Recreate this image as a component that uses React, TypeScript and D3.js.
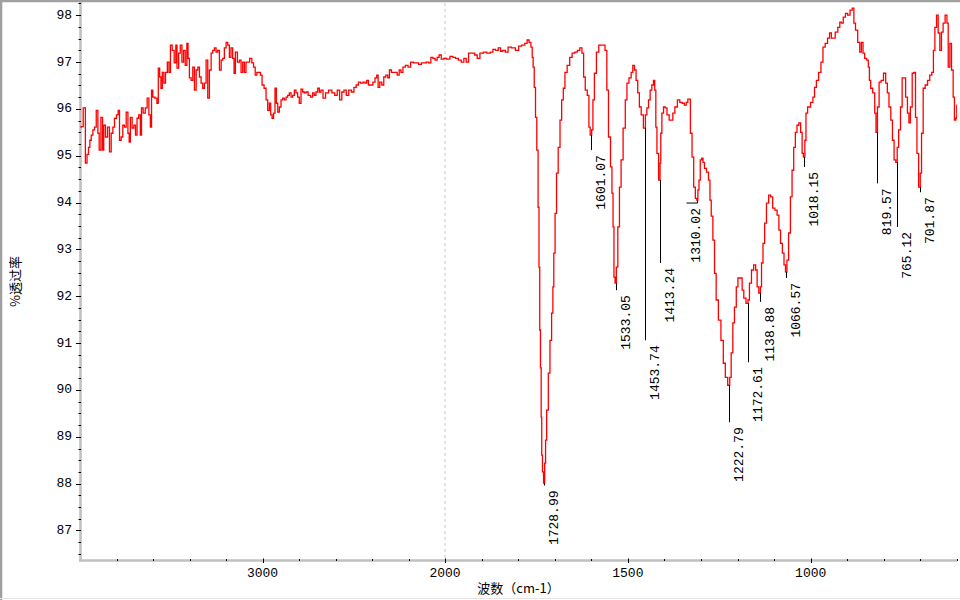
import React, { useEffect, useRef } from "react";
import * as d3 from "d3";

// [wavenumber cm-1, %T]
const spectrumHigh: [number, number][] = [
  [3998, 95.61], [3989, 95.62], [3976, 96.02], [3965, 94.84], [3958, 95.03], [3949, 95.18], [3943, 95.33],
  [3934, 95.44], [3925, 95.55], [3916, 95.61], [3906, 95.97], [3898, 95.48], [3892, 95.12], [3879, 95.82],
  [3874, 95.12], [3866, 95.65], [3855, 95.4], [3843, 95.61], [3834, 95.08], [3824, 95.48], [3816, 95.61],
  [3806, 95.8], [3794, 95.87], [3788, 95.97], [3779, 95.33], [3770, 95.4], [3761, 95.65], [3752, 95.61],
  [3742, 95.93], [3733, 95.48], [3728, 95.29], [3720, 95.82], [3709, 95.59], [3701, 95.65], [3691, 95.44],
  [3684, 95.8], [3673, 95.87], [3666, 95.44], [3660, 96.02], [3648, 95.91], [3637, 96.02], [3627, 96.23],
  [3618, 95.87], [3611, 95.61], [3605, 96.4], [3597, 96.25], [3582, 96.23], [3575, 96.12], [3567, 96.87],
  [3560, 96.68], [3553, 96.44], [3545, 96.78], [3536, 96.55], [3527, 96.78], [3516, 97.0], [3509, 96.78],
  [3500, 97.36], [3490, 97.25], [3478, 96.98], [3472, 97.36], [3465, 96.87], [3454, 97.19], [3447, 97.36],
  [3436, 97.0], [3429, 97.25], [3418, 96.93], [3411, 97.4], [3405, 97.08], [3396, 96.66], [3386, 96.61],
  [3378, 96.89], [3368, 96.4], [3359, 96.83], [3350, 96.89], [3341, 96.68], [3332, 96.55], [3323, 96.44],
  [3314, 96.55], [3304, 97.04], [3296, 96.23], [3286, 96.83], [3277, 97.19], [3268, 97.25], [3259, 97.3],
  [3250, 97.21], [3241, 97.25], [3231, 96.83], [3222, 97.04], [3214, 97.08], [3204, 97.3], [3195, 97.42],
  [3186, 97.36], [3177, 97.1], [3168, 97.3], [3159, 97.08], [3153, 96.76], [3144, 97.21], [3131, 97.0],
  [3122, 97.04], [3113, 96.78], [3104, 97.0], [3095, 96.78], [3086, 97.0], [3077, 97.0], [3064, 97.08],
  [3053, 96.98], [3045, 96.89], [3035, 96.72], [3027, 96.78], [3016, 96.78], [3007, 96.72], [2998, 96.51],
  [2985, 96.44], [2976, 96.19], [2967, 95.97], [2958, 96.12], [2952, 95.87], [2943, 95.8], [2936, 95.91],
  [2927, 96.44], [2921, 96.12], [2912, 95.93], [2903, 96.04], [2894, 96.19], [2885, 96.23], [2876, 96.19],
  [2866, 96.25], [2858, 96.29], [2848, 96.34], [2839, 96.25], [2830, 96.29], [2821, 96.4], [2812, 96.34],
  [2803, 96.25], [2794, 96.12], [2784, 96.42], [2776, 96.36], [2766, 96.34], [2757, 96.36], [2743, 96.29],
  [2730, 96.25], [2721, 96.34], [2712, 96.29], [2702, 96.36], [2693, 96.44], [2684, 96.36], [2675, 96.4],
  [2662, 96.23], [2647, 96.34], [2629, 96.4], [2611, 96.34], [2597, 96.29], [2584, 96.4], [2571, 96.19],
  [2560, 96.36], [2547, 96.4], [2535, 96.29], [2520, 96.4], [2505, 96.36], [2493, 96.46], [2480, 96.51],
  [2469, 96.57], [2456, 96.55], [2443, 96.57], [2433, 96.55], [2425, 96.61], [2414, 96.51], [2401, 96.51],
  [2389, 96.57], [2378, 96.66], [2370, 96.72], [2363, 96.46], [2352, 96.57], [2341, 96.51], [2330, 96.68],
  [2319, 96.72], [2308, 96.66], [2301, 96.83], [2286, 96.78], [2268, 96.78], [2256, 96.72], [2246, 96.83],
  [2237, 96.78], [2224, 96.89], [2210, 96.93], [2195, 96.89], [2182, 97.0], [2164, 96.98], [2152, 96.98],
  [2137, 96.95], [2122, 96.98], [2110, 96.98], [2097, 97.0], [2082, 96.98], [2073, 97.1], [2060, 97.08],
  [2049, 97.04], [2037, 97.1], [2028, 97.15], [2013, 97.06], [2000, 97.08],
];

const spectrumCarbonyl: [number, number][] = [
  [1991, 97.06], [1982, 97.12], [1975, 97.1], [1968, 97.08], [1959, 97.04], [1952, 97.0], [1945, 97.08],
  [1939, 97.0], [1932, 97.19], [1923, 97.19], [1915, 97.15], [1909, 97.08], [1900, 97.19], [1890, 97.21],
  [1881, 97.19], [1872, 97.21], [1866, 97.27], [1858, 97.25], [1851, 97.3], [1845, 97.23], [1839, 97.25],
  [1831, 97.21], [1824, 97.32], [1813, 97.3], [1802, 97.25], [1795, 97.34], [1786, 97.36], [1778, 97.4],
  [1773, 97.47], [1767, 97.42], [1763, 97.32], [1760, 97.1], [1758, 96.89], [1754, 96.46], [1751, 95.82],
  [1747, 95.12], [1744, 93.9], [1742, 92.62], [1740, 91.28], [1738, 90.47], [1736, 89.42], [1735, 88.61],
  [1732, 88.25], [1729, 88.01], [1726, 88.44], [1724, 88.93], [1720, 89.57], [1715, 90.36], [1711, 91.06],
  [1706, 91.64], [1704, 92.2], [1701, 92.92], [1697, 93.77], [1693, 94.63], [1688, 95.18], [1683, 95.76],
  [1679, 96.19], [1674, 96.44], [1670, 96.78], [1662, 96.93], [1656, 97.1], [1649, 97.19], [1641, 97.21],
  [1635, 97.25], [1628, 97.3], [1623, 97.19], [1619, 96.68], [1614, 96.4], [1608, 96.29], [1605, 95.61],
  [1601, 95.44], [1597, 95.55], [1594, 96.19], [1589, 96.76], [1583, 97.21], [1576, 97.36], [1566, 97.36],
  [1559, 97.25], [1556, 96.4], [1550, 95.4], [1545, 94.76], [1542, 94.2], [1539, 93.48], [1537, 92.41],
  [1533, 92.28], [1530, 92.62], [1525, 93.48], [1521, 94.33], [1516, 94.91], [1510, 95.59], [1504, 96.19],
  [1501, 96.55],
];

const spectrumFingerprint: [number, number][] = [
  [1493, 96.66], [1489, 96.78], [1484, 96.93], [1480, 96.83], [1475, 96.61], [1471, 96.34], [1466, 96.04],
  [1461, 95.87], [1454, 95.59], [1450, 95.87], [1446, 96.02], [1441, 96.19], [1437, 96.4], [1432, 96.51],
  [1428, 96.61], [1425, 96.4], [1422, 95.61], [1419, 95.05], [1413, 94.48], [1411, 94.84], [1409, 95.48],
  [1405, 95.91], [1400, 96.04], [1396, 96.02], [1390, 95.87], [1384, 95.76], [1379, 95.76], [1375, 95.91],
  [1368, 96.04], [1361, 96.19], [1355, 96.14], [1348, 96.12], [1343, 96.08], [1338, 96.14], [1334, 96.21],
  [1331, 96.21], [1327, 95.48], [1322, 94.97], [1318, 94.33], [1313, 94.09], [1310, 94.05], [1307, 94.27],
  [1304, 94.48], [1300, 94.91], [1296, 94.95], [1293, 94.86], [1288, 94.73], [1282, 94.65], [1277, 94.48],
  [1274, 94.05], [1270, 93.71], [1265, 93.2], [1261, 92.49], [1256, 91.92], [1249, 91.49], [1242, 91.06],
  [1236, 90.57], [1231, 90.27], [1223, 90.1], [1220, 90.27], [1215, 90.79], [1211, 91.43], [1206, 91.77],
  [1201, 92.2], [1197, 92.39], [1190, 92.39], [1185, 92.13], [1181, 91.96], [1173, 91.85], [1170, 91.92],
  [1165, 92.28], [1159, 92.56], [1153, 92.67], [1148, 92.56], [1145, 92.2], [1139, 92.07], [1136, 92.2],
  [1133, 92.71], [1128, 93.13], [1124, 93.56], [1118, 93.99], [1112, 94.16], [1107, 94.12], [1101, 93.88],
  [1095, 93.84], [1089, 93.73], [1085, 93.41], [1080, 93.13], [1075, 92.92], [1071, 92.67], [1067, 92.52],
  [1063, 92.77], [1058, 93.35], [1053, 94.12], [1049, 94.69], [1044, 95.18], [1040, 95.5], [1035, 95.65],
  [1030, 95.7], [1025, 95.5], [1022, 95.05], [1018, 94.97], [1014, 95.33], [1012, 95.91], [1005, 96.04],
];

const spectrumLow: [number, number][] = [
  [996, 96.14], [992, 96.25], [987, 96.46], [982, 96.61], [975, 96.78], [969, 97.0], [964, 97.32],
  [957, 97.4], [951, 97.51], [946, 97.62], [941, 97.51], [937, 97.51], [929, 97.64], [923, 97.74],
  [918, 97.85], [914, 97.83], [908, 97.96], [902, 98.04], [896, 98.0], [889, 98.11], [884, 98.15],
  [880, 97.83], [875, 97.68], [868, 97.42], [864, 97.21], [859, 97.42], [855, 97.19], [850, 97.08],
  [844, 97.04], [841, 96.89], [838, 96.61], [834, 96.44], [827, 96.34], [823, 95.91], [820, 95.5],
  [815, 96.04], [811, 96.57], [804, 96.61], [798, 96.76], [792, 96.55], [789, 96.34], [783, 96.04],
  [779, 95.76], [774, 95.33], [770, 94.91], [765, 94.86], [762, 95.18], [757, 95.55], [752, 96.04],
  [748, 96.66], [743, 96.66], [738, 96.25], [733, 95.91], [730, 95.7], [725, 96.04], [720, 96.76],
  [716, 96.78], [711, 95.82], [708, 95.05], [702, 94.33], [699, 94.63], [695, 95.48], [690, 96.44],
  [684, 96.51], [677, 96.61], [672, 96.72], [666, 96.78], [663, 97.25], [658, 97.74], [654, 98.0],
  [649, 97.62], [645, 97.25], [640, 97.64], [636, 97.83], [629, 98.0], [626, 97.83], [622, 96.89],
  [617, 97.4], [613, 96.83], [608, 96.25], [606, 95.76], [601, 95.8], [600, 96.08],
];

// peak picking
const peakPositions = [1728.99, 1601.07, 1533.05, 1453.74, 1413.24, 1310.02, 1222.79, 1172.61, 1138.88, 1066.57, 1018.15, 819.57, 765.12, 701.87];
const peakMinima = [88.01, 95.44, 92.28, 95.59, 94.48, 94.05, 90.1, 91.85, 92.07, 92.52, 94.97, 95.5, 94.86, 94.33];
const leaderEnds = [87.96, 95.12, 92.13, 91.06, 92.71, 93.99, 89.31, 90.59, 91.88, 92.39, 94.76, 94.41, 93.48, 94.22];
const labelPositions = [1728.99, 1601.07, 1533.05, 1453.74, 1413.24, 1340, 1222.79, 1172.61, 1138.88, 1066.57, 1018.15, 819.57, 765.12, 701.87];

const xLabelTicks = [3000, 2000, 1500, 1000];
const yLabelTicks = [87, 88, 89, 90, 91, 92, 93, 94, 95, 96, 97, 98];

const xTitle = "波数（cm-1）";
const yTitle = "%透过率";

const App = () => {
  const ref = useRef<SVGSVGElement>(null);

  const width = 960;
  const height = 600;
  const plot = { left: 80, right: 957, top: 3, bottom: 560 };

  useEffect(() => {
    const svg = d3.select(ref.current);
    svg.selectAll("*").remove();

    // split axis: 4000-2000 at half scale
    const x = d3.scaleLinear().domain([4000, 2000, 600]).range([plot.left, 445, plot.right]);
    const y = d3.scaleLinear().domain([86.37, 98.26]).range([plot.bottom, plot.top]);

    const mono = "'Liberation Mono', 'DejaVu Sans Mono', monospace";
    const cjk = "'Noto Sans CJK SC', 'Noto Sans', sans-serif";

    svg.append("rect").attr("width", width).attr("height", height).attr("fill", "#fff");

    svg.append("defs").append("clipPath").attr("id", "plotclip")
      .append("rect")
      .attr("x", plot.left).attr("y", plot.top)
      .attr("width", plot.right - plot.left).attr("height", plot.bottom - plot.top);

    // dashed marker at the scale break
    svg.append("line")
      .attr("x1", x(2000)).attr("x2", x(2000))
      .attr("y1", plot.top).attr("y2", plot.bottom)
      .attr("stroke", "#c8c8c8").attr("stroke-dasharray", "3,3");

    // axis lines
    svg.append("line")
      .attr("x1", plot.left + 0.5).attr("x2", plot.left + 0.5)
      .attr("y1", 0).attr("y2", plot.bottom + 1.5)
      .attr("stroke", "#c0c0c0").attr("stroke-width", 2.6);
    svg.append("line")
      .attr("x1", plot.left - 1).attr("x2", plot.right)
      .attr("y1", plot.bottom + 0.5).attr("y2", plot.bottom + 0.5)
      .attr("stroke", "#c0c0c0").attr("stroke-width", 2.6);

    // y ticks
    const yMinor = d3.range(86.5, 98.3, 0.25).filter((v) => Math.abs(v - Math.round(v)) > 0.01);
    svg.append("g").selectAll("line").data(yMinor).join("line")
      .attr("x1", plot.left - 1.5).attr("x2", plot.left + 1)
      .attr("y1", (d) => Math.round(y(d)) + 0.5).attr("y2", (d) => Math.round(y(d)) + 0.5)
      .attr("stroke", "#000");
    svg.append("g").selectAll("line").data(yLabelTicks).join("line")
      .attr("x1", plot.left - 4).attr("x2", plot.left + 1)
      .attr("y1", (d) => Math.round(y(d)) + 0.5).attr("y2", (d) => Math.round(y(d)) + 0.5)
      .attr("stroke", "#000");
    svg.append("g").selectAll("text").data(yLabelTicks).join("text")
      .attr("x", plot.left - 8).attr("y", (d) => y(d))
      .attr("text-anchor", "end").attr("dominant-baseline", "central")
      .attr("font-family", mono).attr("font-size", 13).attr("fill", "#000")
      .text((d) => d);

    // x ticks
    const xMinor = [...d3.range(3800, 2000, -200), ...d3.range(1900, 599, -100)]
      .filter((v) => !xLabelTicks.includes(v));
    svg.append("g").selectAll("line").data(xMinor).join("line")
      .attr("x1", (d) => Math.round(x(d)) + 0.5).attr("x2", (d) => Math.round(x(d)) + 0.5)
      .attr("y1", plot.bottom - 1).attr("y2", plot.bottom + 1)
      .attr("stroke", "#000");
    svg.append("g").selectAll("line").data(xLabelTicks).join("line")
      .attr("x1", (d) => Math.round(x(d)) + 0.5).attr("x2", (d) => Math.round(x(d)) + 0.5)
      .attr("y1", plot.bottom - 1.5).attr("y2", plot.bottom + 3)
      .attr("stroke", "#000");
    svg.append("g").selectAll("text").data(xLabelTicks).join("text")
      .attr("x", (d) => x(d)).attr("y", 577)
      .attr("text-anchor", "middle")
      .attr("font-family", mono).attr("font-size", 13).attr("fill", "#000")
      .text((d) => d);

    // titles
    svg.append("text")
      .attr("x", (plot.left + plot.right) / 2).attr("y", 593)
      .attr("text-anchor", "middle")
      .attr("font-family", cjk).attr("font-size", 13).attr("fill", "#000")
      .text(xTitle);
    svg.append("text")
      .attr("transform", `translate(14,${(plot.top + plot.bottom) / 2}) rotate(-90)`)
      .attr("text-anchor", "middle").attr("dominant-baseline", "central")
      .attr("font-family", cjk).attr("font-size", 13).attr("fill", "#000")
      .text(yTitle);

    // spectrum, drawn stepwise like the instrument software
    const data = [...spectrumHigh, ...spectrumCarbonyl, ...spectrumFingerprint, ...spectrumLow];
    const line = d3.line<[number, number]>()
      .curve(d3.curveStep)
      .x((d) => x(d[0]))
      .y((d) => y(d[1]));
    svg.append("path")
      .datum(data)
      .attr("clip-path", "url(#plotclip)")
      .attr("fill", "none")
      .attr("stroke", "#ff0000")
      .attr("stroke-width", 1.3)
      .attr("d", line);

    // peak leaders and labels
    const peaks = svg.append("g");
    peakPositions.forEach((p, i) => {
      const px = Math.round(x(p)) + 0.5;
      const lx = Math.round(x(labelPositions[i])) + 0.5;
      const y0 = y(peakMinima[i]);
      const y1 = y(leaderEnds[i]);
      const pts: [number, number][] = [[px, y0], [px, y1]];
      if (lx !== px) pts.push([lx, y1]);
      peaks.append("path")
        .attr("d", d3.line()(pts))
        .attr("fill", "none").attr("stroke", "#000").attr("stroke-width", 1);
      peaks.append("text")
        .attr("transform", `translate(${lx + 10},${y1 + 5}) rotate(-90)`)
        .attr("text-anchor", "end").attr("dominant-baseline", "central")
        .attr("font-family", mono).attr("font-size", 13).attr("fill", "#000")
        .text(p.toFixed(2));
    });

    // outer frame
    svg.append("line").attr("x1", 1).attr("x2", 1).attr("y1", 0).attr("y2", height)
      .attr("stroke", "#a0a0a0").attr("stroke-width", 2.6);
    svg.append("line").attr("x1", 0).attr("x2", width).attr("y1", 1).attr("y2", 1)
      .attr("stroke", "#a0a0a0").attr("stroke-width", 2.6);
    svg.append("line").attr("x1", 0).attr("x2", width).attr("y1", height - 1.5).attr("y2", height - 1.5)
      .attr("stroke", "#e6e6e6").attr("stroke-width", 1);
  }, []);

  return (
    <div style={{ position: "absolute", left: 0, top: 0 }}>
      <svg ref={ref} width={width} height={height} style={{ display: "block" }}></svg>
    </div>
  );
};

export default App;
